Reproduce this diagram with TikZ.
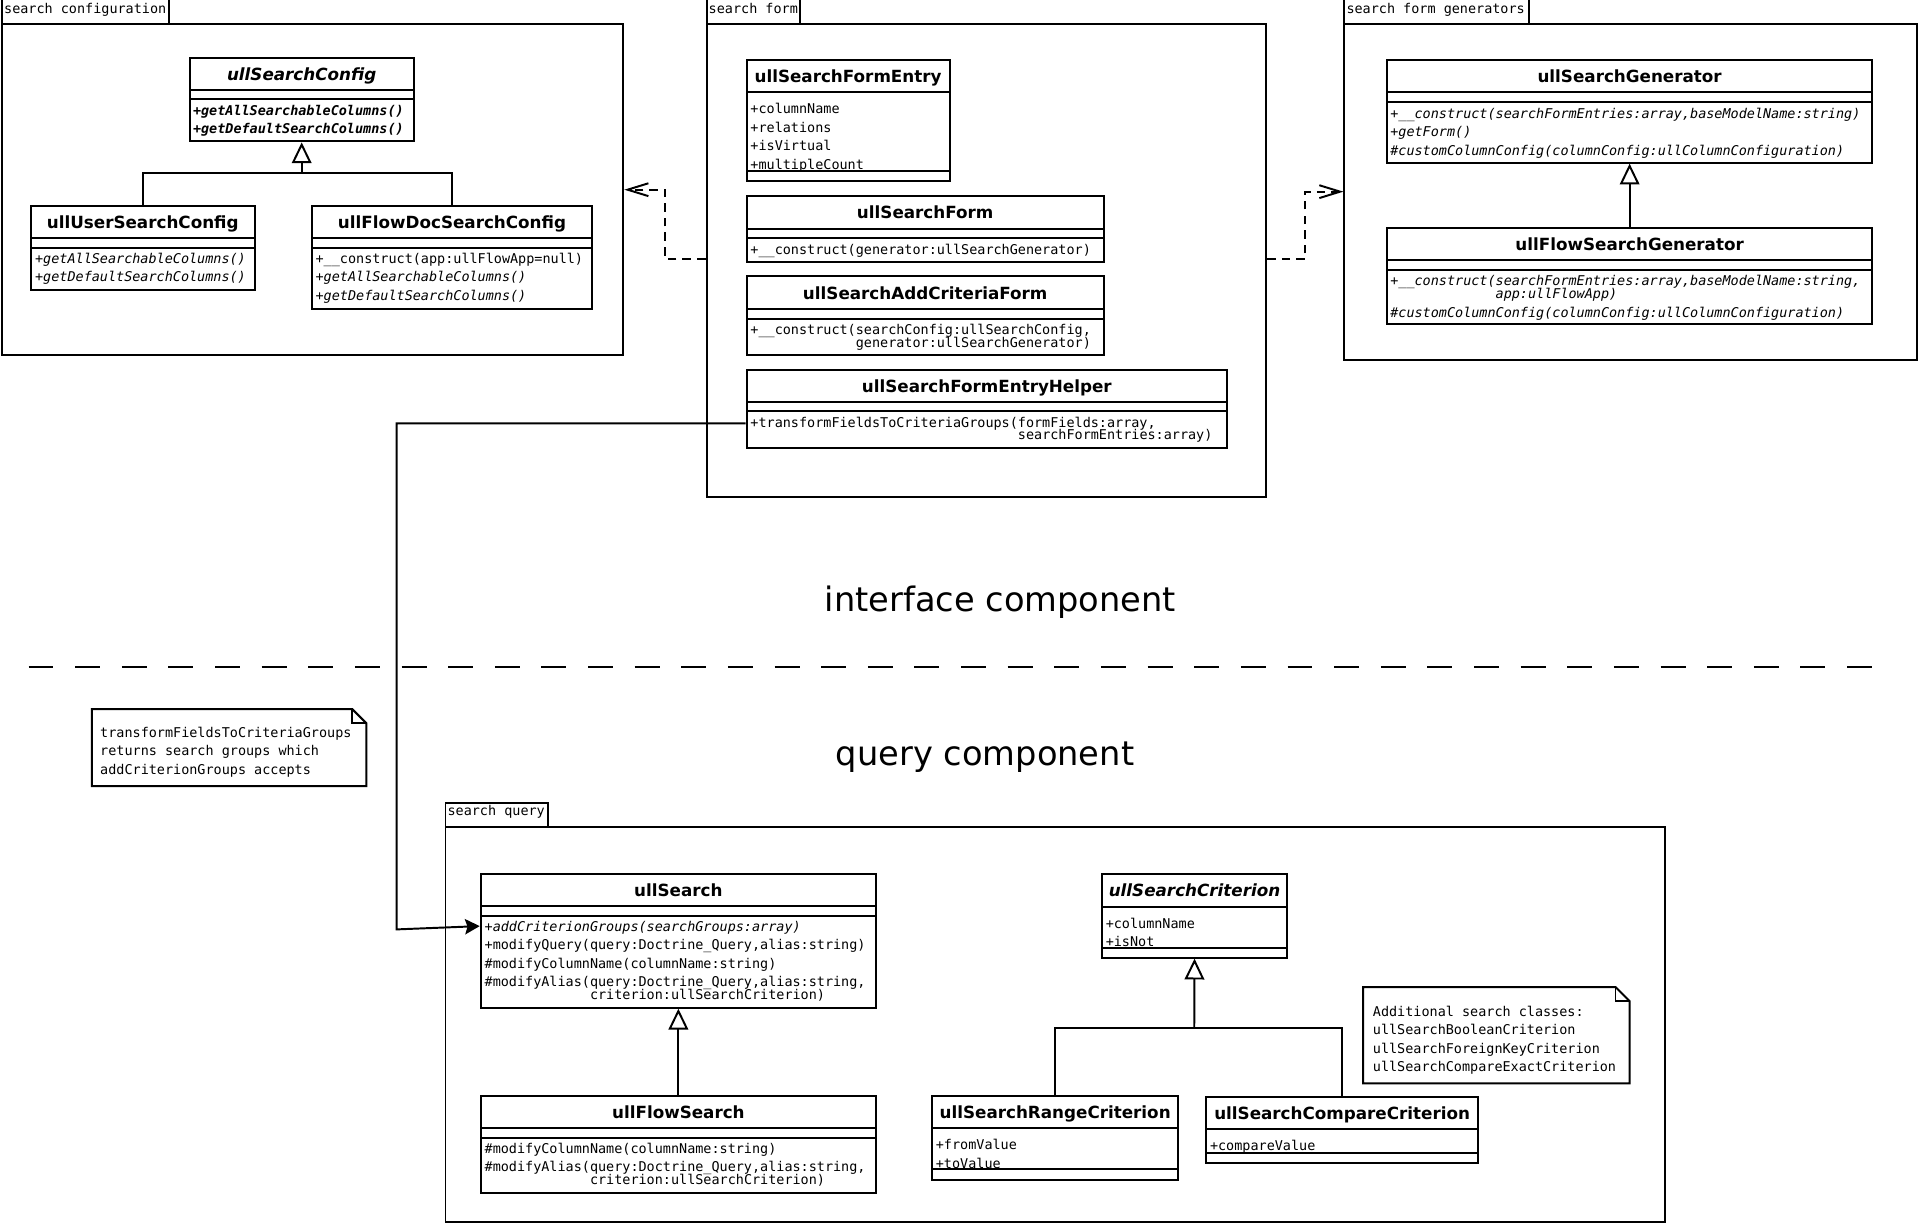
\documentclass[tikz,border=0pt]{standalone}
\usepackage{fontspec}
\setmainfont{DejaVu Sans}
\setmonofont{DejaVu Sans Mono}
\usetikzlibrary{arrows.meta,fit}
\tikzset{
  ln/.style={line width=1.6pt},
  cbox/.style={draw, line width=1.6pt, inner sep=0pt},
  cname/.style={font=\bfseries\fontsize{13.7}{16}\selectfont, anchor=base, inner sep=0pt},
  mt/.style={font=\ttfamily\fontsize{11}{13}\selectfont, anchor=base west, inner sep=0pt},
  mti/.style={mt, font=\ttfamily\itshape\fontsize{11}{13}\selectfont},
  mtbi/.style={mt, font=\ttfamily\bfseries\itshape\fontsize{11}{13}\selectfont},
  big/.style={font=\fontsize{27.5}{33}\selectfont, anchor=base, inner sep=0pt},
  dep/.style={line width=1.6pt, dash pattern=on 7pt off 5pt, -{Straight Barb[length=17pt,width=10.5pt]}},
  genz/.style={line width=1.6pt, -{Triangle[open,length=17pt,width=16pt]}},
  assoc/.style={line width=1.6pt, -{Stealth[length=12pt,width=12.5pt,inset=2pt]}},
}
\newcount\mc
\newcommand\ml[4][mt]{\global\advance\mc by 1\relax\node[#1] (m\the\mc) at (#2,#3) {#4};}
% id, x1, y1, x2, y2, header bottom, attribute bottom, name
\newcommand\clsbox[8]{%
  \node[cbox, fit={(#2,#3)(#4,#5)}] (#1) {};
  \draw[ln] (#2,#6) -- (#4,#6) (#2,#7) -- (#4,#7);
  \path (#1.north) ++(0,19.5) node[cname] (#1name) {#8};
}
% id, x1, tab y1, tab x2, body top, x2, y2, label
\newcommand\pkgbox[8]{%
  \draw[ln] (#2,#3) rectangle (#4,#5);
  \node[cbox, fit={(#2,#5)(#6,#7)}] (#1) {};
  \path (#2,#5) ++(1.5,-8.8) node[mt] (#1lbl) {#8};
}
% id, x1, y1, x2, y2, ear
\newcommand\notebox[6]{%
  \node[inner sep=0pt, fit={(#2,#3)(#4,#5)}] (#1) {};
  \draw[ln] (#2,#3) -- ({#4-#6},#3) -- (#4,{#3+#6}) -- (#4,#5) -- (#2,#5) -- cycle;
  \draw[ln] ({#4-#6},#3) -- ({#4-#6},{#3+#6}) -- (#4,{#3+#6});
}
\begin{document}
\begin{tikzpicture}[x=1pt,y=-1pt]
\useasboundingbox (0,0) rectangle (1568,999);
\clip (0,0) rectangle (1568,999);

% ---------- packages ----------
\pkgbox{cfgpkg}{1.7}{-1}{137.7}{19.6}{509.3}{290}{search configuration}
\pkgbox{formpkg}{577.4}{-1}{654}{19.6}{1034.5}{405.8}{search form}
\pkgbox{genpkg}{1098.5}{-1}{1249.5}{19.6}{1566}{294.2}{search form generators}
\pkgbox{qpkg}{364}{656.4}{447.7}{675.5}{1360.8}{998.6}{search query}

% ---------- search configuration ----------
\clsbox{cfg}{155}{47}{338}{115.5}{73.3}{81}{\itshape ullSearchConfig}
\ml[mtbi]{157.5}{94}{+getAllSearchableColumns()}
\ml[mtbi]{157.5}{109}{+getDefaultSearchColumns()}

\clsbox{usercfg}{25.3}{168.3}{208}{237}{194.5}{202.7}{ullUserSearchConfig}
\ml[mti]{28.5}{215}{+getAllSearchableColumns()}
\ml[mti]{28.5}{230}{+getDefaultSearchColumns()}

\clsbox{flowcfg}{254.7}{168.3}{484}{252.2}{194.5}{202.7}{ullFlowDocSearchConfig}
\ml{257.7}{215}{+\_\_construct(app:ullFlowApp=null)}
\ml[mti]{257.7}{230}{+getAllSearchableColumns()}
\ml[mti]{257.7}{245.6}{+getDefaultSearchColumns()}

\coordinate (j1) at (246.5,141.6);
\draw[ln] (usercfg.north) |- (j1) -| (flowcfg.north);
\draw[genz] (j1) -- (cfg.south);

% ---------- search form ----------
\clsbox{entry}{610}{49}{775.9}{147.9}{75.5}{139.7}{ullSearchFormEntry}
\ml{613}{93}{+columnName}
\ml{613}{108}{+relations}
\ml{613}{123.3}{+isVirtual}
\ml{613}{138.8}{+multipleCount}

\clsbox{form}{610}{160.2}{901.9}{213.8}{186.9}{194.5}{ullSearchForm}
\ml{613}{207.8}{+\_\_construct(generator:ullSearchGenerator)}

\clsbox{addcrit}{610}{225.8}{901.9}{289.8}{252.5}{260.4}{ullSearchAddCriteriaForm}
\ml{613}{273.1}{+\_\_construct(searchConfig:ullSearchConfig,}
\ml{613}{283.8}{\phantom{+\_\_construct(}generator:ullSearchGenerator)}

\clsbox{helper}{610}{302}{1002.7}{365.8}{328.5}{336.1}{ullSearchFormEntryHelper}
\ml{613}{349.1}{+transformFieldsToCriteriaGroups(formFields:array,}
\ml{613}{359.5}{\phantom{+transformFieldsToCriteriaGroups(}searchFormEntries:array)}

% ---------- search form generators ----------
\clsbox{gen}{1133.4}{49}{1529.7}{132.9}{75.2}{83.1}{ullSearchGenerator}
\ml[mti]{1135.8}{96.9}{+\_\_construct(searchFormEntries:array,baseModelName:string)}
\ml[mti]{1135.8}{111.6}{+getForm()}
\ml[mti]{1135.8}{126.9}{\#customColumnConfig(columnConfig:ullColumnConfiguration)}

\clsbox{flowgen}{1133.4}{186.3}{1529.7}{264.8}{212.5}{220.6}{ullFlowSearchGenerator}
\ml[mti]{1135.8}{233.4}{+\_\_construct(searchFormEntries:array,baseModelName:string,}
\ml[mti]{1135.8}{243.7}{\phantom{+\_\_construct(}app:ullFlowApp)}
\ml[mti]{1135.8}{259.2}{\#customColumnConfig(columnConfig:ullColumnConfiguration)}

\draw[genz] (flowgen.north) -- (gen.south);

% ---------- dependencies ----------
\coordinate (ya) at (0,212);
\coordinate (yb) at (0,155);
\coordinate (yc) at (0,156.6);
\draw[dep] (formpkg.west |- ya) -| (543.7,155) -- (cfgpkg.east |- yb);
\draw[dep] (formpkg.east |- ya) -| (1066.4,156.6) -- (genpkg.west |- yc);

% ---------- separator and titles ----------
\node[big] (ifc) at (817.5,499.3) {interface component};
\draw[ln, dash pattern=on 20.4pt off 17.7pt] (23.3,544.8) -- (1530,544.8);
\node[big] (qc) at (804.9,625.1) {query component};

% ---------- note 1 ----------
\notebox{note1}{75}{579.4}{299.3}{642.3}{11.5}
\ml{81.7}{602.4}{transformFieldsToCriteriaGroups}
\ml{81.7}{617.7}{returns search groups which}
\ml{81.7}{633.2}{addCriterionGroups accepts}

% ---------- search query ----------
\clsbox{search}{392.8}{714.2}{715.8}{823.4}{740.5}{748.5}{ullSearch}
\ml[mti]{395.8}{761}{+addCriterionGroups(searchGroups:array)}
\ml{395.8}{776.2}{+modifyQuery(query:Doctrine\_Query,alias:string)}
\ml{395.8}{791.7}{\#modifyColumnName(columnName:string)}
\ml{395.8}{806.4}{\#modifyAlias(query:Doctrine\_Query,alias:string,}
\ml{395.8}{816.5}{\phantom{\#modifyAlias(}criterion:ullSearchCriterion)}

\clsbox{flowsearch}{392.8}{895.3}{715.8}{974.6}{922}{930.2}{ullFlowSearch}
\ml{395.8}{942.4}{\#modifyColumnName(columnName:string)}
\ml{395.8}{957.3}{\#modifyAlias(query:Doctrine\_Query,alias:string,}
\ml{395.8}{968.2}{\phantom{\#modifyAlias(}criterion:ullSearchCriterion)}

\draw[genz] (flowsearch.north) -- (search.south);

\clsbox{crit}{900.2}{714.2}{1051.9}{782.5}{740.9}{774.9}{\itshape ullSearchCriterion}
\ml{903.3}{758.5}{+columnName}
\ml{903.3}{773.5}{+isNot}

\clsbox{range}{761.6}{895.3}{962.7}{964.2}{922}{955.5}{ullSearchRangeCriterion}
\ml{764.5}{939.6}{+fromValue}
\ml{764.5}{954.6}{+toValue}

\clsbox{compare}{985.7}{896.4}{1207.6}{950}{922.8}{942.4}{ullSearchCompareCriterion}
\ml{988.5}{940.2}{+compareValue}

\coordinate (j2) at (975.8,839.7);
\draw[ln] (range.north) |- (j2) -| (compare.north);
\draw[genz] (j2) -- (crit.south);

% ---------- note 2 ----------
\notebox{note2}{1113.7}{806.5}{1331.5}{885.2}{11.5}
\ml{1121.6}{830.4}{Additional search classes:}
\ml{1121.6}{845.6}{ullSearchBooleanCriterion}
\ml{1121.6}{860.6}{ullSearchForeignKeyCriterion}
\ml{1121.6}{875.9}{ullSearchCompareExactCriterion}

% ---------- association ----------
\coordinate (yh) at (0,346);
\coordinate (ys) at (0,756.7);
\draw[assoc] (helper.west |- yh) -- (324,346) -- (324,759.4) -- (search.west |- ys);

\end{tikzpicture}
\end{document}
